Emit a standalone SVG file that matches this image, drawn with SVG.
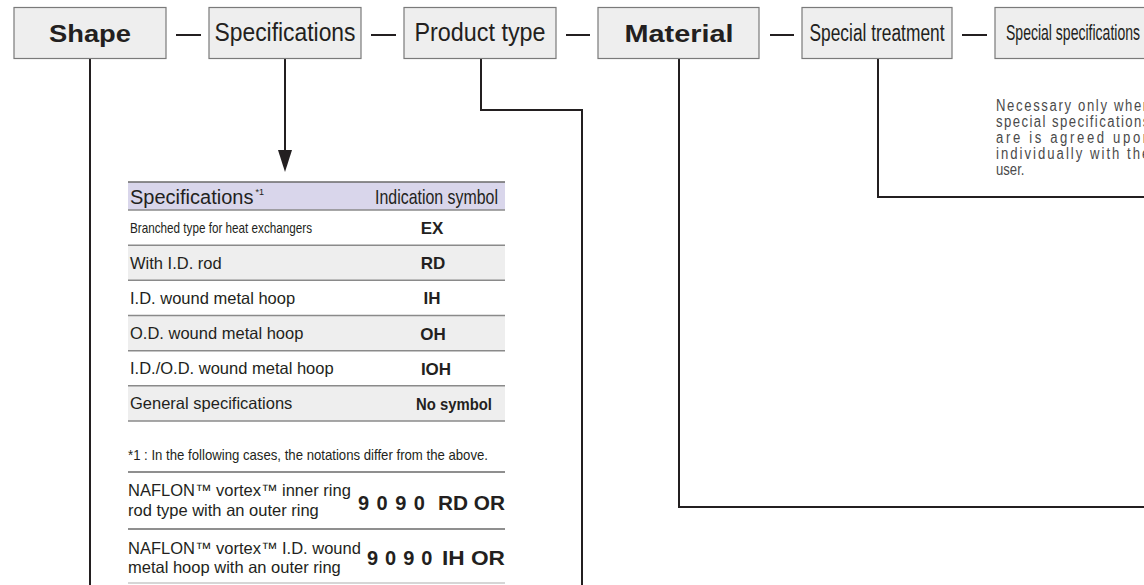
<svg xmlns="http://www.w3.org/2000/svg" width="1144" height="585" viewBox="0 0 1144 585">
<defs>
<style>
.box{fill:#eeeeee;stroke:#7a7a7a;stroke-width:1.2}
.conn{fill:none;stroke:#231f20;stroke-width:2}
.dash{stroke:#231f20;stroke-width:2}
.t{font-family:"Liberation Sans",Arial,sans-serif;fill:#231f20}
.big{font-size:24px;font-weight:bold}
.cond{font-size:25px}
.lbl{font-size:16.5px}
.sym{font-size:17px;font-weight:bold;text-anchor:middle}
.note{font-size:16px;fill:#4a4a4a}
.rule{stroke:#8a8a8a;stroke-width:1.5}
.hdr{fill:#d9d6eb}
.grey{fill:#eeeeee}
</style>
<marker id="arrow" viewBox="0 0 22 14" refX="0" refY="7" markerWidth="22" markerHeight="14" markerUnits="userSpaceOnUse" orient="auto">
<path d="M0,0 L22,7 L0,14 z" fill="#231f20"/>
</marker>
</defs>
<rect width="1144" height="585" fill="#ffffff"/>

<g id="connectors">
<line class="dash" x1="176" y1="35" x2="201" y2="35"/>
<line class="dash" x1="371" y1="35" x2="396" y2="35"/>
<line class="dash" x1="566" y1="35" x2="590" y2="35"/>
<line class="dash" x1="770" y1="35" x2="794" y2="35"/>
<line class="dash" x1="962" y1="35" x2="987" y2="35"/>
<path class="conn" d="M90,58 V585"/>
<path class="conn" d="M285,58 V150" marker-end="url(#arrow)"/>
<path class="conn" d="M481,58 V110 H582 V585"/>
<path class="conn" d="M679,58 V507 H1144"/>
<path class="conn" d="M878,58 V197 H1144"/>
</g>

<g id="node-shape">
<rect class="box" x="14" y="7.5" width="152" height="51"/>
<text class="t big" x="90" y="41.5" text-anchor="middle" textLength="82" lengthAdjust="spacingAndGlyphs">Shape</text>
</g>
<g id="node-specifications">
<rect class="box" x="209" y="7.5" width="152" height="51"/>
<text class="t cond" x="285" y="40.5" text-anchor="middle" textLength="141" lengthAdjust="spacingAndGlyphs">Specifications</text>
</g>
<g id="node-product-type">
<rect class="box" x="404" y="7.5" width="152" height="51"/>
<text class="t cond" x="480" y="40.5" text-anchor="middle" textLength="131" lengthAdjust="spacingAndGlyphs">Product type</text>
</g>
<g id="node-material">
<rect class="box" x="598" y="7.5" width="161" height="51"/>
<text class="t big" x="679" y="41.5" text-anchor="middle" textLength="109" lengthAdjust="spacingAndGlyphs">Material</text>
</g>
<g id="node-special-treatment">
<rect class="box" x="802" y="7.5" width="150" height="51"/>
<text class="t" style="font-size:23px" x="877" y="40.5" text-anchor="middle" textLength="135" lengthAdjust="spacingAndGlyphs">Special treatment</text>
</g>
<g id="node-special-specifications">
<rect class="box" x="995" y="7.5" width="200" height="51"/>
<text class="t" style="font-size:22px" x="1006" y="40" textLength="134" lengthAdjust="spacingAndGlyphs">Special specifications</text>
</g>

<g id="node-special-note" transform="translate(996,0) scale(0.82,1)">
<text class="t note" x="0" y="111" textLength="188" lengthAdjust="spacing">Necessary only when</text>
<text class="t note" x="0" y="127" textLength="187" lengthAdjust="spacing">special specifications</text>
<text class="t note" x="0" y="143" textLength="188" lengthAdjust="spacing">are is agreed upon</text>
<text class="t note" x="0" y="159" textLength="187" lengthAdjust="spacing">individually with the</text>
<text class="t note" x="0" y="175">user.</text>
</g>

<g id="node-spec-table">
<rect class="hdr" x="128" y="182" width="377" height="28"/>
<rect class="grey" x="128" y="245.2" width="377" height="35.1"/>
<rect class="grey" x="128" y="315.5" width="377" height="35.2"/>
<rect class="grey" x="128" y="385.8" width="377" height="35.2"/>
<line class="rule" x1="128" y1="182" x2="505" y2="182" style="stroke:#6a6a6a"/>
<line class="rule" x1="128" y1="210" x2="505" y2="210"/>
<line class="rule" x1="128" y1="245.2" x2="505" y2="245.2"/>
<line class="rule" x1="128" y1="280.3" x2="505" y2="280.3"/>
<line class="rule" x1="128" y1="315.5" x2="505" y2="315.5"/>
<line class="rule" x1="128" y1="350.7" x2="505" y2="350.7"/>
<line class="rule" x1="128" y1="385.8" x2="505" y2="385.8"/>
<line class="rule" x1="128" y1="421" x2="505" y2="421"/>
<text class="t" style="font-size:20px" x="130" y="203.5">Specifications<tspan style="font-size:9px" dx="2" dy="-9">*1</tspan></text>
<text class="t" style="font-size:21px" x="498" y="203.5" text-anchor="end" textLength="123" lengthAdjust="spacingAndGlyphs">Indication symbol</text>

<text class="t" style="font-size:14.5px" x="130" y="233" textLength="182" lengthAdjust="spacingAndGlyphs">Branched type for heat exchangers</text>
<text class="t lbl" x="130" y="268.5">With I.D. rod</text>
<text class="t lbl" x="130" y="303.5">I.D. wound metal hoop</text>
<text class="t lbl" x="130" y="338.7">O.D. wound metal hoop</text>
<text class="t lbl" x="130" y="373.8">I.D./O.D. wound metal hoop</text>
<text class="t lbl" x="130" y="409">General specifications</text>

<text class="t sym" x="432" y="234">EX</text>
<text class="t sym" x="433" y="269">RD</text>
<text class="t sym" x="432" y="304">IH</text>
<text class="t sym" x="433" y="339.5">OH</text>
<text class="t sym" x="436" y="374.5">IOH</text>
<text class="t" style="font-size:17px;font-weight:bold" x="492" y="410" text-anchor="end" textLength="76" lengthAdjust="spacingAndGlyphs">No symbol</text>

<text class="t" style="font-size:14.5px" x="128" y="460" textLength="360" lengthAdjust="spacingAndGlyphs">*1 : In the following cases, the notations differ from the above.</text>
<line class="rule" x1="128" y1="472" x2="505" y2="472" style="stroke:#6a6a6a"/>
<text class="t lbl" x="128" y="495.5">NAFLON™ vortex™ inner ring</text>
<text class="t lbl" x="128" y="515.5">rod type with an outer ring</text>
<text class="t" style="font-size:20px;font-weight:bold" y="509.5"><tspan x="358" letter-spacing="7.5">9090</tspan><tspan x="438" textLength="67" lengthAdjust="spacingAndGlyphs">RD OR</tspan></text>
<line class="rule" x1="128" y1="529" x2="505" y2="529" style="stroke:#6a6a6a"/>
<text class="t lbl" x="128" y="553.5">NAFLON™ vortex™ I.D. wound</text>
<text class="t lbl" x="128" y="573">metal hoop with an outer ring</text>
<text class="t" style="font-size:20px;font-weight:bold" y="564.5"><tspan x="367" letter-spacing="7">9090</tspan><tspan x="442" textLength="63" lengthAdjust="spacingAndGlyphs">IH OR</tspan></text>
<line class="rule" x1="128" y1="583" x2="505" y2="583" style="stroke:#c8c8c8"/>
</g>
</svg>
